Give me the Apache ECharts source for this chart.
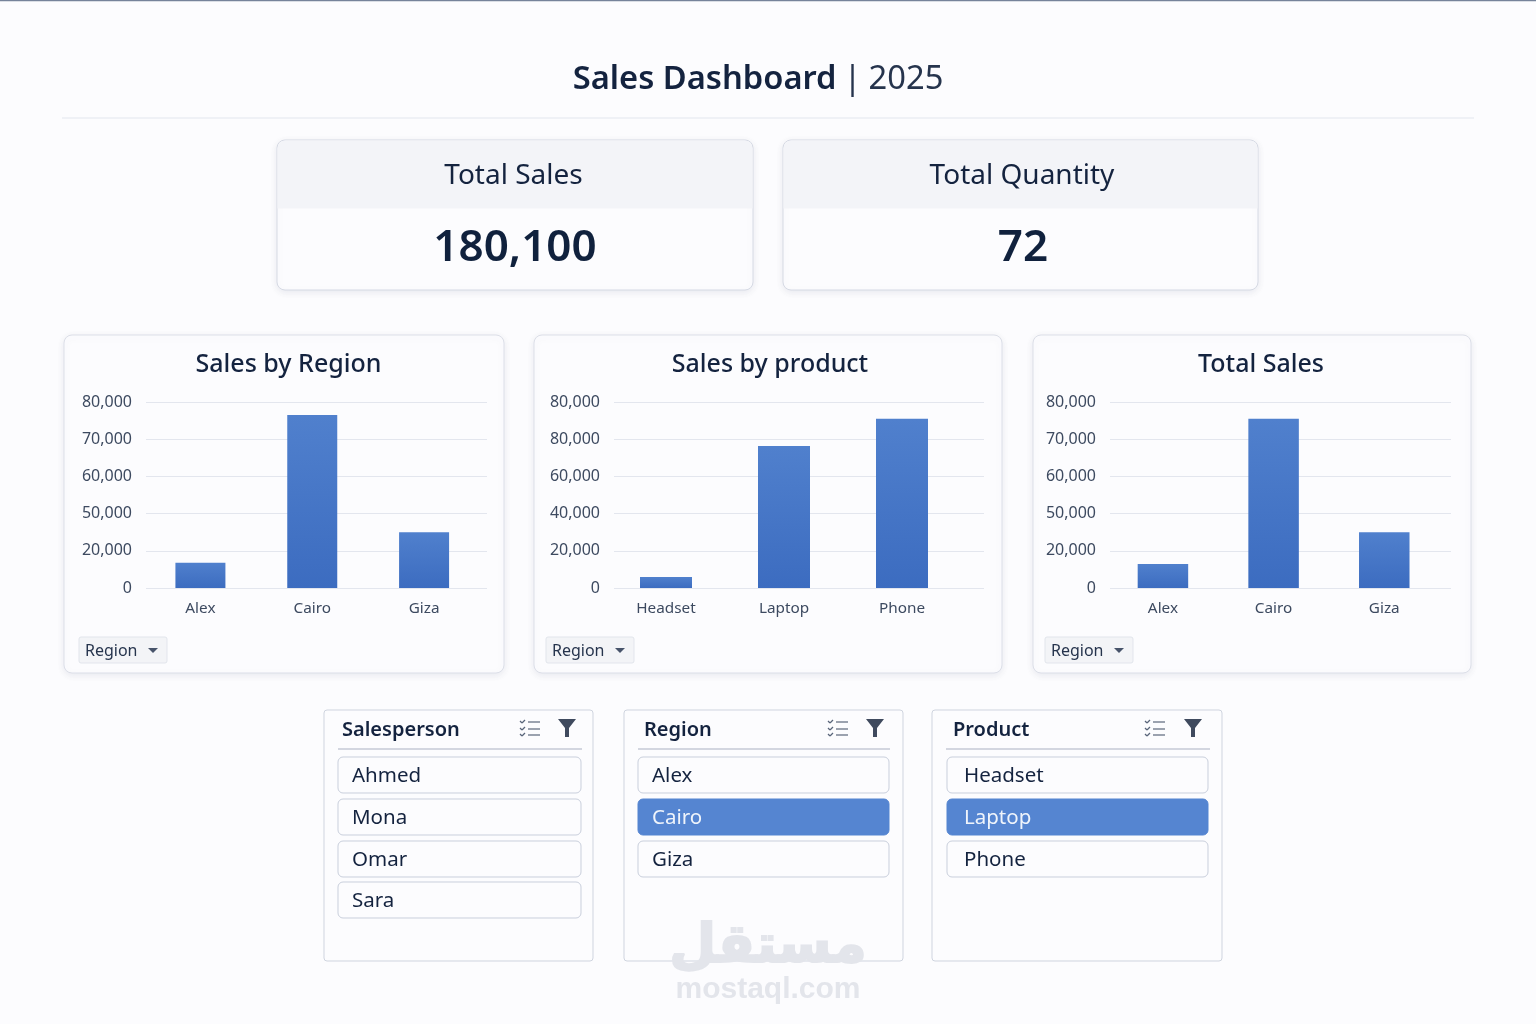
<!DOCTYPE html>
<html>
<head>
<meta charset="utf-8">
<script src="https://cdn.jsdelivr.net/npm/echarts@6/dist/echarts.min.js"></script>
<style>html,body{margin:0;padding:0;background:#fcfcfe}#c{width:1536px;height:1024px}</style>
</head>
<body>
<div id="c"></div>
<script>
// ---- data (values are on the even scale the axes are drawn on; printed tick labels are kept as shown)
const regionCategories = ['Alex', 'Cairo', 'Giza'];
const productCategories = ['Headset', 'Laptop', 'Phone'];
const salesByRegion = [13600, 93000, 30000];
const salesByProduct = [5900, 76300, 91000];
const totalSalesValues = [12900, 91000, 30000];
const regionTickLabels = ['0', '20,000', '50,000', '60,000', '70,000', '80,000'];
const productTickLabels = ['0', '20,000', '40,000', '60,000', '80,000', '80,000'];
const salespeople = ['Ahmed', 'Mona', 'Omar', 'Sara'];
const regions = ['Alex', 'Cairo', 'Giza'];
const products = ['Headset', 'Laptop', 'Phone'];
const kpiTotalSales = '180,100';
const kpiTotalQuantity = '72';

const FONT = '"Noto Sans","Open Sans",sans-serif';
const INK = '#14233f';
const AXIS_INK = '#3d4a60';
const PAPER = '#fcfcfe';

const panels = [
  {title:'Sales by Region', cats:regionCategories, vals:salesByRegion, ticks:regionTickLabels,
   card:[64,335,440,338], tx:288.5, line:[146,341], band:[144.5,335.5], bw:50, drop:79},
  {title:'Sales by product', cats:productCategories, vals:salesByProduct, ticks:productTickLabels,
   card:[534,335,468,338], tx:770, line:[614,370], band:[607,354], bw:52, drop:546},
  {title:'Total Sales', cats:regionCategories, vals:totalSalesValues, ticks:regionTickLabels,
   card:[1033,335,438,338], tx:1261, line:[1110,341], band:[1107.6,332], bw:50.5, drop:1045}
];
const slicers = [
  {title:'Salesperson', items:salespeople, sel:-1, box:[324,710,269,251], tx:342, rule:[338,582], it:[338,243], itx:352, chk:520, fil:558},
  {title:'Region', items:regions, sel:1, box:[624,710,279,251], tx:644, rule:[638,890], it:[638,251], itx:652, chk:828, fil:866},
  {title:'Product', items:products, sel:1, box:[932,710,290,251], tx:953, rule:[946,1210], it:[947,261], itx:964, chk:1145, fil:1184}
];
const itemRows = [757, 799, 841, 882];

const g = [];
const shadow = {shadowBlur:7, shadowColor:'rgba(70,80,110,0.10)', shadowOffsetY:2};
function rect(x,y,w,h,r,fill,stroke,extra,z){
  g.push({type:'rect', z:z===undefined?-1:z, silent:true, shape:{x,y,width:w,height:h,r},
    style:Object.assign({fill:fill, stroke:stroke, lineWidth:stroke?1:0}, extra||{})});
}
function text(t,x,y,size,weight,color,align,family,z,extra){
  g.push({type:'text', z:z===undefined?5:z, silent:true, x, y,
    style:Object.assign({text:t, font:(weight||400)+' '+size+'px '+(family||FONT), fill:color||INK, align:align||'left', verticalAlign:'middle'}, extra||{})});
}
function line(x1,y1,x2,y2,color,w,z){
  g.push({type:'line', z:z===undefined?-1:z, silent:true, shape:{x1,y1,x2,y2}, style:{stroke:color,lineWidth:w||1}});
}
function poly(points,fill,z){
  g.push({type:'polygon', z:z===undefined?5:z, silent:true, shape:{points}, style:{fill}});
}

// page frame
g.push({type:'rect', z:-3, silent:true, shape:{x:0,y:0,width:1536,height:1024}, style:{fill:PAPER}});
line(0,0.5,1536,0.5,'#76839a',1.5,-2);
line(62,118,1474,118,'#e2e5ee',1.2,-2);

// KPI cards
[[277,476,'Total Sales',kpiTotalSales,513.5,515],[783,475,'Total Quantity',kpiTotalQuantity,1022,1023]].forEach(k=>{
  rect(k[0],140,k[1],150,8,PAPER,'#d6dae4',shadow);
  rect(k[0]+0.5,140.5,k[1]-1,68,[8,8,0,0],'#f3f4f8',null);
  text(k[2],k[4],176,28,400,INK,'center');
  text(k[3],k[5],248.5,44,600,'#10213d','center');
});

// chart cards
panels.forEach(p=>{
  const c=p.card;
  rect(c[0],c[1],c[2],c[3],8,PAPER,'#dcdfe8',shadow);
  rect(p.drop,637,88,26,2,'#f3f4f7','#e2e5ec');
  text('Region',p.drop+6,651.5,16,400,'#26344d');
  const t=p.drop+74;
  poly([[t-5,648],[t+5,648],[t,653]],'#47536a');
});

// slicers
slicers.forEach(s=>{
  const b=s.box;
  rect(b[0],b[1],b[2],b[3],3,PAPER,'#cfd4df');
  text(s.title,s.tx,730,20,600,INK);
  line(s.rule[0],749,s.rule[1],749,'#d3d6e0',2);
  s.items.forEach((name,i)=>{
    const on=i===s.sel;
    rect(s.it[0],itemRows[i],s.it[1],36,5,on?'#5585d1':PAPER,on?'#5585d1':'#c9cfdc');
    text(name,s.itx,itemRows[i]+19,20.5,400,on?'#eff4fb':INK);
  });
  // checklist icon
  [722,729,735].forEach(y=>{
    line(s.chk+8,y,s.chk+20,y,'#59657a',1.2,5);
    line(s.chk,y-1,s.chk+2,y+1,'#59657a',1.2,5);
    line(s.chk+2,y+1,s.chk+5,y-2,'#59657a',1.2,5);
  });
  // filter icon
  const f=s.fil;
  poly([[f,719],[f+18,719],[f+11,728],[f+11,737],[f+7,737],[f+7,728]],'#3f4a5e');
});

// watermark
text('مستقل',768,948,54,700,'#e3e5eb','center','"DejaVu Sans"',8,{stroke:'#e3e5eb',lineWidth:2});
text('mostaql.com',768,990,30,700,'#e3e5eb','center','"Liberation Sans",sans-serif',8);

// titles
const title=[{
  left:758, top:63, padding:0, textAlign:'center',
  text:'{a|Sales Dashboard}{s||}{b|2025}',
  textStyle:{rich:{
    a:{fontFamily:FONT,fontSize:32.7,fontWeight:600,color:INK},
    s:{fontFamily:FONT,fontSize:32.7,fontWeight:400,color:'#26344d',padding:[0,7,0,7]},
    b:{fontFamily:FONT,fontSize:32.7,fontWeight:400,color:'#26344d'}
  }}
}];
panels.forEach(p=>title.push({left:p.tx, top:352, padding:0, textAlign:'center', text:p.title,
  textStyle:{fontFamily:FONT,fontSize:25,fontWeight:500,color:INK}}));

// axes: one grid carries the ruled scale and its labels, one the bars and their categories
const grid=[],xAxis=[],yAxis=[],series=[];
panels.forEach(p=>{
  const a=grid.length;
  grid.push({left:p.line[0],width:p.line[1],top:402,height:186});
  xAxis.push({gridIndex:a,type:'category',show:false,data:p.cats});
  yAxis.push({gridIndex:a,type:'value',min:0,max:100000,interval:20000,
    axisLine:{show:false},axisTick:{show:false},
    axisLabel:{margin:14,fontFamily:FONT,fontSize:16,color:AXIS_INK,padding:[3,0,0,0],
      formatter:(v)=>p.ticks[Math.round(v/20000)]},
    splitLine:{lineStyle:{color:'#e3e6ee',width:1}}});
  const b=grid.length;
  grid.push({left:p.band[0],width:p.band[1],top:402,height:186});
  xAxis.push({gridIndex:b,type:'category',data:p.cats,
    axisLine:{show:false},axisTick:{show:false},
    axisLabel:{margin:13,fontFamily:FONT,fontSize:15.3,color:AXIS_INK}});
  yAxis.push({gridIndex:b,type:'value',min:0,max:100000,interval:20000,show:false,splitLine:{show:false}});
  series.push({type:'bar',name:p.title,xAxisIndex:b,yAxisIndex:b,data:p.vals,barWidth:p.bw,animation:false,silent:true,
    itemStyle:{color:{type:'linear',x:0,y:0,x2:0,y2:1,colorStops:[{offset:0,color:'#5080cd'},{offset:1,color:'#3c6cc0'}]}}});
});

const chart=echarts.init(document.getElementById('c'));
chart.setOption({animation:false,backgroundColor:PAPER,tooltip:{show:false},title,grid,xAxis,yAxis,series,graphic:{elements:g}});
</script>
</body>
</html>
